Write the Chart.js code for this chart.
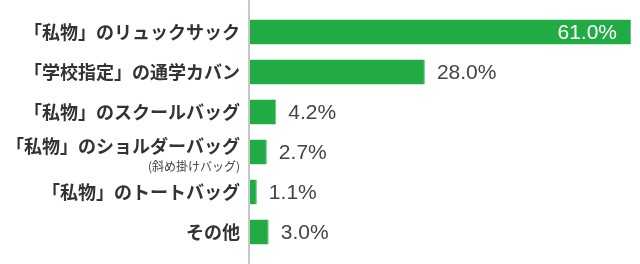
<!DOCTYPE html>
<html>
<head>
<meta charset="utf-8">
<script src="https://cdn.jsdelivr.net/npm/chart.js@4"></script>
<style>
  html, body { margin: 0; padding: 0; background: #fff; }
  #wrap { width: 640px; height: 264px; }
</style>
</head>
<body>
<div id="wrap"><canvas id="bags"></canvas></div>
<script>
const categories = [
  '「私物」のリュックサック',
  '「学校指定」の通学カバン',
  '「私物」のスクールバッグ',
  '「私物」のショルダーバッグ',
  '「私物」のトートバッグ',
  'その他'
];
const subLabels = ['', '', '', '(斜め掛けバッグ)', '', ''];
const shares = [61.0, 28.0, 4.2, 2.7, 1.1, 3.0];

const JP = '"Noto Sans CJK JP", "Noto Sans", sans-serif';

// full-height axis line + value labels
const decorate = {
  id: 'decorate',
  afterDatasetsDraw(chart) {
    const ctx = chart.ctx;
    const x0 = chart.scales.x.getPixelForValue(0);
    ctx.save();
    ctx.strokeStyle = '#c8c8c8';
    ctx.lineWidth = 2;
    ctx.beginPath();
    ctx.moveTo(x0 - 1, 0);
    ctx.lineTo(x0 - 1, chart.height);
    ctx.stroke();

    const meta = chart.getDatasetMeta(0);
    ctx.font = '21px "Liberation Sans", Arial, sans-serif';
    ctx.textBaseline = 'middle';
    meta.data.forEach((bar, i) => {
      const txt = shares[i].toFixed(1) + '%';
      if (shares[i] > 50) {
        ctx.fillStyle = '#ffffff';
        ctx.textAlign = 'right';
        ctx.fillText(txt, bar.x - 14, bar.y + 1);
      } else {
        ctx.fillStyle = '#444444';
        ctx.textAlign = 'left';
        ctx.fillText(txt, bar.x + 12, bar.y + 1);
      }
    });

    ctx.font = '12px ' + JP;
    ctx.fillStyle = '#444444';
    ctx.textAlign = 'right';
    subLabels.forEach((s, i) => {
      if (!s) return;
      const y = chart.scales.y.getPixelForValue(i);
      ctx.fillText(s, x0 - 10, y + 14);
    });
    ctx.restore();
  }
};

new Chart(document.getElementById('bags'), {
  type: 'bar',
  data: {
    labels: categories,
    datasets: [{
      data: shares,
      backgroundColor: '#22aa44',
      borderColor: '#5ccc74',
      borderWidth: { right: 1, top: 0, bottom: 0, left: 0 },
      borderSkipped: 'start',
      barPercentage: 0.62,
      categoryPercentage: 1
    }]
  },
  options: {
    indexAxis: 'y',
    responsive: true,
    maintainAspectRatio: false,
    animation: false,
    layout: { padding: { top: 12, bottom: 12, right: 9, left: 0 } },
    plugins: { legend: { display: false }, tooltip: { enabled: false } },
    scales: {
      x: { display: false, min: 0, max: 61 },
      y: {
        grid: { display: false, drawTicks: false },
        border: { display: false },
        afterFit(scale) {
          scale.width = 250;
          scale.paddingTop = 0;
          scale.paddingBottom = 0;
        },
        ticks: {
          padding: 10,
          color: '#333333',
          callback(v, i) { return subLabels[i] ? [categories[i], ''] : categories[i]; },
          font(c) {
            return { family: JP, size: 18, weight: 'bold', lineHeight: subLabels[c.index] ? 0.65 : 1.2 };
          }
        }
      }
    }
  },
  plugins: [decorate]
});
</script>
</body>
</html>
